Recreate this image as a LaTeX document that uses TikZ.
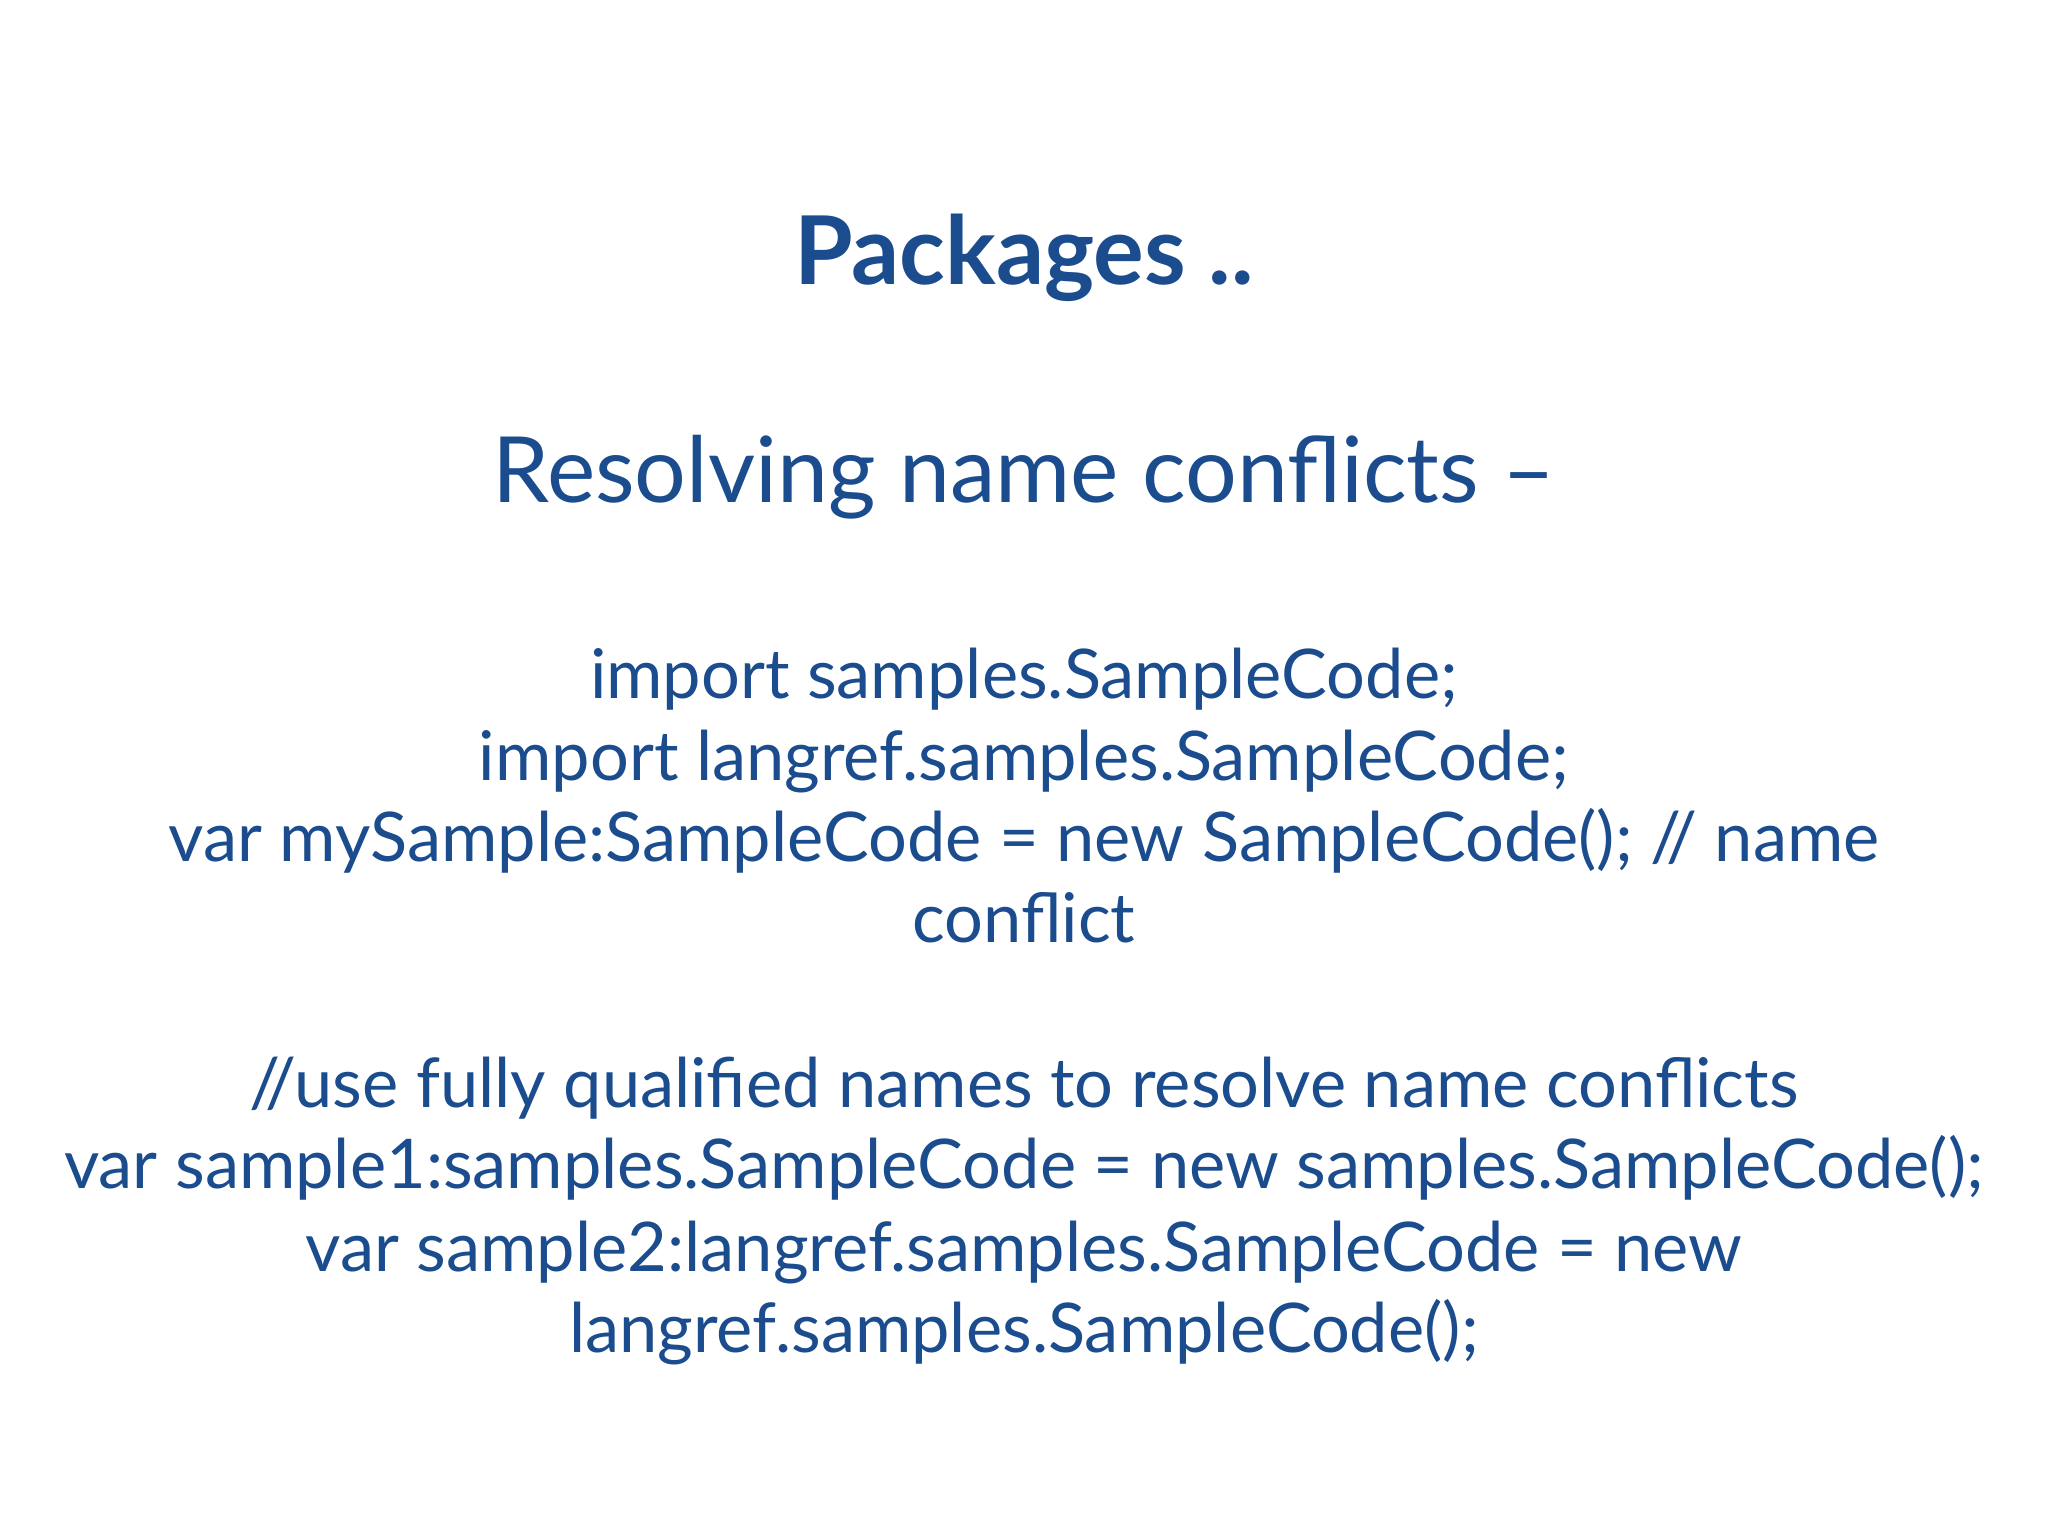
\documentclass[tikz,border=0pt]{standalone}
\usepackage{fontspec}
\setmainfont{Lato}
\definecolor{slideblue}{HTML}{1A4C8E}
\begin{document}
\begin{tikzpicture}[x=1cm,y=-1cm,
  txt/.style={anchor=base,text=slideblue,inner sep=0pt},
  body/.style={txt,font=\fontsize{19.5}{23}\selectfont}]
\useasboundingbox[fill=white] (0,0) rectangle (20.48,15.36);
\node[txt,font=\fontsize{27}{32}\selectfont\bfseries] (title) at (10.24,2.85) {Packages ..};
\node[txt,font=\fontsize{26}{31}\selectfont] (sub) at (10.24,5.03) {Resolving name conflicts –};
\node[body] (l1) at (10.24,6.99) {import samples.SampleCode;};
\node[body] (l2) at (10.24,7.81) {import langref.samples.SampleCode;};
\node[body] (l3) at (10.24,8.62) {var mySample:SampleCode = new SampleCode(); // name};
\node[body] (l4) at (10.24,9.43) {conflict};
\node[body] (l5) at (10.24,11.07) {//use fully qualified names to resolve name conflicts};
\node[body] (l6) at (10.24,11.88) {var sample1:samples.SampleCode = new samples.SampleCode();};
\node[body] (l7) at (10.24,12.71) {var sample2:langref.samples.SampleCode = new};
\node[body] (l8) at (10.24,13.52) {langref.samples.SampleCode();};
\end{tikzpicture}
\end{document}
